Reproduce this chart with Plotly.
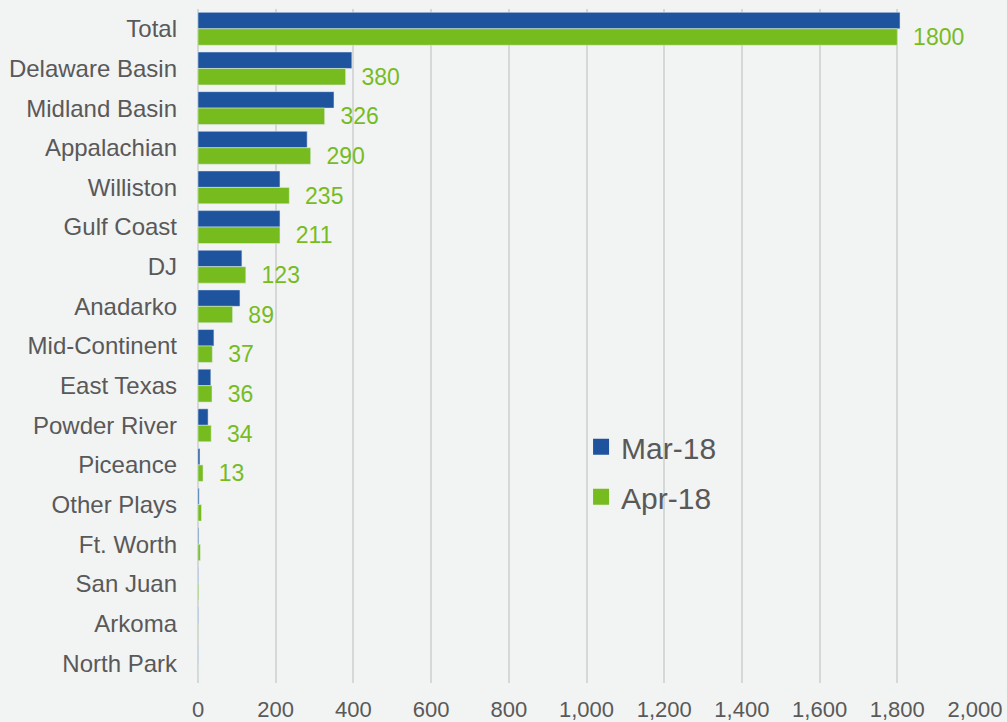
import plotly.graph_objects as go

# Basins, top to bottom
basins = ["Total", "Delaware Basin", "Midland Basin", "Appalachian", "Williston",
          "Gulf Coast", "DJ", "Anadarko", "Mid-Continent", "East Texas",
          "Powder River", "Piceance", "Other Plays", "Ft. Worth", "San Juan",
          "Arkoma", "North Park"]

mar_18 = [1807, 396, 350, 281, 211, 211, 113, 108, 41, 33, 26, 5, 3, 2, 1, 1, 0.5]
apr_18 = [1800, 380, 326, 290, 235, 211, 123, 89, 37, 36, 34, 13, 9, 6, 2, 1, 0.5]

x_ticks = [0, 200, 400, 600, 800, 1000, 1200, 1400, 1600, 1800, 2000]

BLUE = "#1E549E"
GREEN = "#77BC1F"
GREY_TEXT = "#595959"
BG = "#F2F3F3"
FONT = "Liberation Sans, Arial, sans-serif"

# value labels on the Apr-18 bars (only the larger basins are labelled)
apr_text = [f"  {v:g}" if v >= 13 else "" for v in apr_18]

fig = go.Figure()
fig.add_trace(go.Bar(
    y=basins, x=mar_18, orientation="h", name="Mar-18",
    marker=dict(color=BLUE), showlegend=False,
))
fig.add_trace(go.Bar(
    y=basins, x=apr_18, orientation="h", name="Apr-18",
    marker=dict(color=GREEN), showlegend=False,
    text=apr_text, textposition="outside", constraintext="none",
    cliponaxis=False,
    textfont=dict(family=FONT, size=23, color=GREEN),
))

# legend entries with larger square swatches
for name, color, grp in [("Mar-18", BLUE, "mar"), ("Apr-18", GREEN, "apr")]:
    fig.add_trace(go.Scatter(
        x=[None], y=[None], mode="markers", name=name, legendgroup=grp,
        marker=dict(symbol="square", size=16, color=color),
        hoverinfo="skip",
    ))

fig.update_layout(
    width=1007, height=722,
    margin=dict(l=198, r=32, t=9, b=39, autoexpand=False),
    paper_bgcolor=BG, plot_bgcolor=BG,
    font=dict(family=FONT, color=GREY_TEXT),
    barmode="group", bargap=0.17, bargroupgap=0,
    showlegend=True,
    legend=dict(
        x=0.493, y=0.389, xanchor="left", yanchor="top",
        bgcolor="rgba(0,0,0,0)", traceorder="grouped", tracegroupgap=8,
        font=dict(family=FONT, size=30, color=GREY_TEXT),
    ),
    xaxis=dict(
        range=[0, 2000], tickvals=x_ticks, tickformat=",d",
        showgrid=True, gridcolor="#D6D8D8", gridwidth=1.5,
        zeroline=True, zerolinecolor="#D6D8D8", zerolinewidth=1.5,
        showline=False, ticks="", ticklabelstandoff=11,
        tickfont=dict(family=FONT, size=22, color=GREY_TEXT),
        fixedrange=True,
    ),
    yaxis=dict(
        autorange="reversed", showgrid=False, zeroline=False,
        showline=False, ticks="", ticklabelstandoff=20,
        tickfont=dict(family=FONT, size=24, color=GREY_TEXT),
        fixedrange=True,
    ),
)

fig.write_html("out.html")
